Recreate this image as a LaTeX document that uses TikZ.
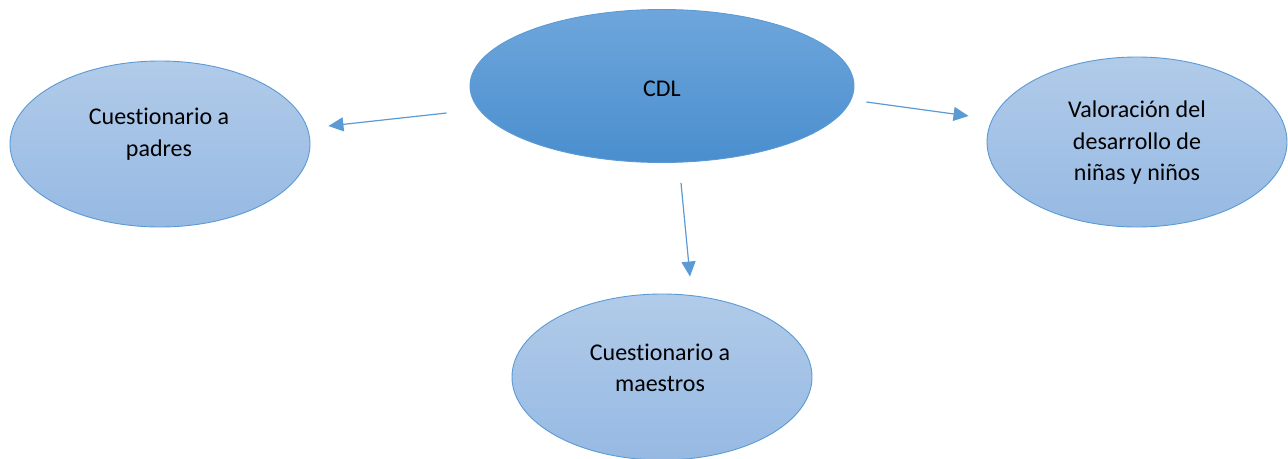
\documentclass[tikz,border=0pt]{standalone}
\usepackage{fontspec}
\setmainfont{Carlito}[Ligatures=NoCommon]
\usetikzlibrary{arrows.meta,calc,shapes.geometric}
\definecolor{edge}{HTML}{5B9BD5}
\definecolor{maintop}{HTML}{6EA6DC}
\definecolor{mainbot}{HTML}{4A8ECE}
\definecolor{subtop}{HTML}{B1CBE9}
\definecolor{subbot}{HTML}{96B9E3}
\definecolor{arrowc}{HTML}{5B9BD5}
\begin{document}
\begin{tikzpicture}[x=1pt,y=-1pt,
  bubble/.style={ellipse, draw=edge, line width=0.9pt, inner sep=0pt},
  mainbubble/.style={bubble, top color=maintop, bottom color=mainbot},
  subbubble/.style={bubble, top color=subtop, bottom color=subbot, minimum width=300pt},
  lbl/.style={font=\fontsize{24}{31.5}\selectfont, align=center, inner sep=0pt},
  arr/.style={draw=arrowc, line width=1.2pt, -{Triangle[length=15pt,width=14pt]}}]
\useasboundingbox[fill=white] (0,0) rectangle (1288,458);
\node[mainbubble, minimum width=384pt, minimum height=153pt] (cdl) at (662,86) {};
\node[subbubble, minimum height=166pt] (padres) at (160,144) {};
\node[subbubble, minimum height=170pt] (valor) at (1137,142) {};
\node[subbubble, minimum height=166pt] (maestros) at (662,377) {};
\node[lbl] (cdl-t) at ($(cdl)+(0,3)$) {CDL};
\node[lbl] (padres-t) at ($(padres)+(-1,-10)$) {Cuestionario a\\padres};
\node[lbl] (valor-t) at ($(valor)+(0,1)$) {Valoración del\\desarrollo de\\niñas y niños};
\node[lbl] (maestros-t) at ($(maestros)+(-2,-9)$) {Cuestionario a\\maestros};
\draw[arr] ($(cdl.west)+(-23,27)$) -- ($(padres.east)+(18,-18)$);
\draw[arr] ($(cdl.east)+(12,16)$) -- ($(valor.west)+(-18,-26)$);
\draw[arr] ($(cdl.south)+(19,20)$) -- ($(maestros.north)+(28,-17)$);
\end{tikzpicture}
\end{document}
